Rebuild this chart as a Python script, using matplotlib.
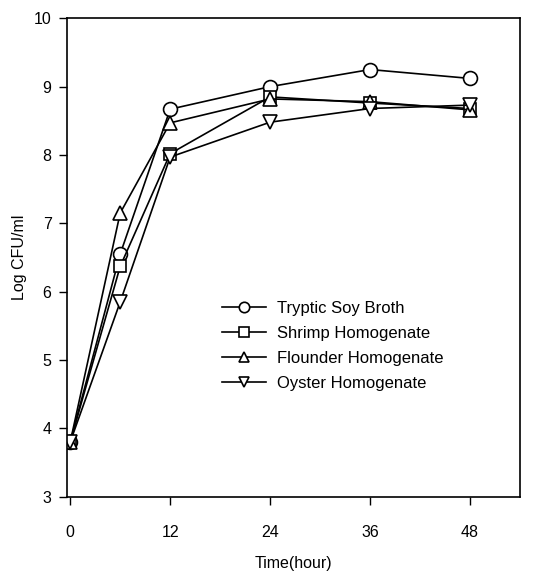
import matplotlib.pyplot as plt

plt.rcParams['font.family'] = ['Liberation Sans', 'DejaVu Sans']

hours = [0, 6, 12, 24, 36, 48]
tsb = [3.8, 6.55, 8.67, 9.0, 9.25, 9.12]
shrimp = [3.8, 6.37, 8.02, 8.85, 8.76, 8.68]
flounder = [3.8, 7.15, 8.47, 8.82, 8.78, 8.66]
oyster = [3.8, 5.85, 7.97, 8.48, 8.68, 8.73]
names = ['Tryptic Soy Broth', 'Shrimp Homogenate', 'Flounder Homogenate', 'Oyster Homogenate']

fig = plt.figure(figsize=(5.35, 5.71), dpi=100)
ax = fig.add_axes([0.125, 0.13, 0.847, 0.838])

series = [tsb, shrimp, flounder, oyster]
markers = ['o', 's', '^', 'v']
sizes = [10, 9, 10, 10]
for s, m, ms, n in zip(series, markers, sizes, names):
    ax.plot(hours, s, color='black', lw=1.2, marker=m, ms=ms,
            mfc='white', mec='black', mew=1.2, label=n)

ax.set_xlim(-0.4, 54)
ax.set_ylim(3, 10)
ax.set_xticks([0, 12, 24, 36, 48])
ax.set_yticks(range(3, 11))
ax.tick_params(direction='out', length=6, width=1, labelsize=11.5)
ax.tick_params(axis='x', pad=14)
ax.tick_params(axis='y', pad=5)
for sp in ax.spines.values():
    sp.set_linewidth(1.2)
ax.set_xlabel('Time(hour)', fontsize=11.5, labelpad=12)
ax.set_ylabel('Log CFU/ml', fontsize=11.5, labelpad=5)

ax.legend(loc='upper left', bbox_to_anchor=(0.31, 0.44), frameon=False,
          fontsize=12, handlelength=2.6, labelspacing=0.6, handletextpad=0.7,
          markerscale=0.75)

plt.savefig('out.png')
